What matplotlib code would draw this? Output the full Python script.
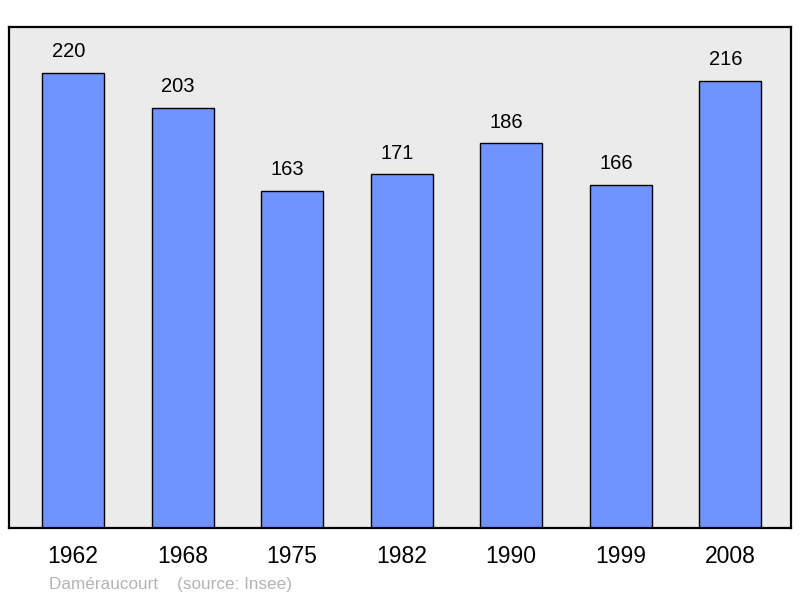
import matplotlib.pyplot as plt

years = ["1962", "1968", "1975", "1982", "1990", "1999", "2008"]
population = [220, 203, 163, 171, 186, 166, 216]
commune = "Daméraucourt"
source = "(source: Insee)"

plt.rcParams["font.family"] = ["Liberation Sans", "DejaVu Sans"]

fig = plt.figure(figsize=(8, 5.98), dpi=100)
ax = fig.add_axes([9 / 800, 70 / 598, 782 / 800, 501 / 598])
ax.set_facecolor("#ebebeb")

x = range(len(years))
bars = ax.bar(x, population, width=0.566, color="#7094ff", edgecolor="black", linewidth=1)
for rect, v in zip(bars, population):
    ax.annotate(str(v), (rect.get_x() + rect.get_width() / 2, v),
                xytext=(-3.3, 15.4), textcoords="offset points",
                ha="center", va="center", fontsize=14.5)

ax.set_xlim(-0.585, 6.557)
ax.set_ylim(0, 242.3)
ax.set_xticks(list(x))
ax.set_xticklabels(years, fontsize=16.5)
ax.tick_params(axis="x", length=0, pad=12)
ax.set_yticks([])
for s in ax.spines.values():
    s.set_linewidth(1.6)

fig.text(49 / 800, 1 - 584 / 598, commune + "    " + source,
         fontsize=12.3, color="#b4b4b4", va="center", ha="left")

fig.savefig("out.png", dpi=100)
